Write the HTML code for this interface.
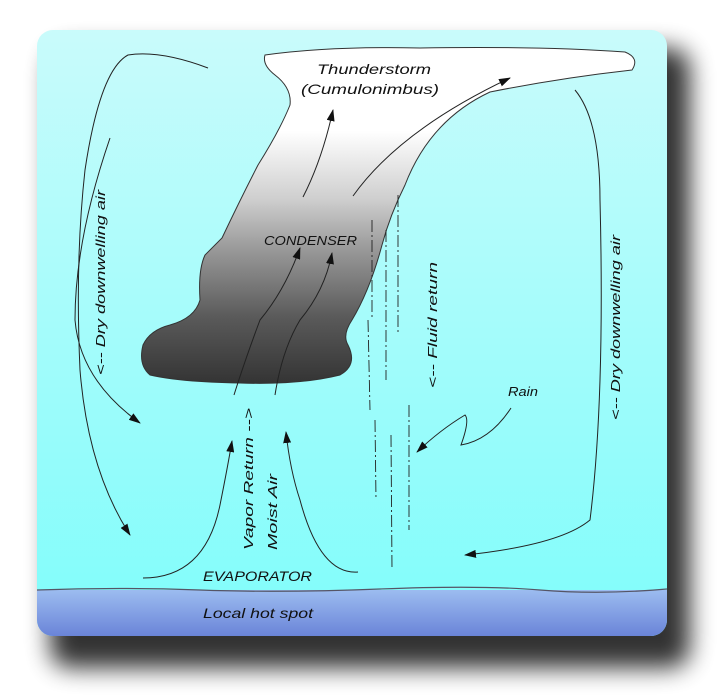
<!DOCTYPE html>
<html><head><meta charset="utf-8"><style>
html,body{margin:0;padding:0;background:#fff;}
svg{display:block;}
text{font-family:"Liberation Sans",sans-serif;font-style:italic;fill:#111;}
</style></head><body>
<svg width="720" height="697" viewBox="0 0 720 697" xmlns="http://www.w3.org/2000/svg">
<defs>
<linearGradient id="sky" x1="0" y1="0" x2="0" y2="1">
<stop offset="0" stop-color="#c9fbfb"/><stop offset="1" stop-color="#7ffdfb"/>
</linearGradient>
<linearGradient id="water" x1="0" y1="0" x2="0" y2="1">
<stop offset="0" stop-color="#9cbcf0"/><stop offset="1" stop-color="#6a84d8"/>
</linearGradient>
<linearGradient id="cloud" x1="0" y1="46" x2="0" y2="385" gradientUnits="userSpaceOnUse">
<stop offset="0.25" stop-color="#ffffff"/><stop offset="0.45" stop-color="#cfcfcf"/><stop offset="0.6" stop-color="#999"/><stop offset="0.8" stop-color="#5a5a5a"/><stop offset="1" stop-color="#333"/>
</linearGradient>
<filter id="sh" x="-10%" y="-10%" width="130%" height="130%"><feGaussianBlur stdDeviation="12"/></filter>
<clipPath id="card"><rect x="37" y="30" width="630" height="606" rx="16"/></clipPath>
<marker id="ah" markerWidth="12" markerHeight="8" refX="11" refY="4" orient="auto" markerUnits="userSpaceOnUse"><path d="M0,0 L12,4 L0,8 Z" fill="#111"/></marker>
</defs>
<rect x="50" y="48" width="640" height="620" rx="20" fill="#000" opacity="0.8" filter="url(#sh)"/>
<g clip-path="url(#card)">
<rect x="37" y="30" width="630" height="606" fill="url(#sky)"/>
<rect x="37" y="590" width="630" height="46" fill="url(#water)"/>
<path d="M37,590 Q120,587 200,590 T380,589 T540,590 T667,589" stroke="#556" stroke-width="1.2" fill="none"/>
</g>
<path d="M265,55 Q330,46 420,48 Q540,46 625,52 Q640,58 632,70 Q560,78 490,92 Q430,120 405,185 Q390,215 382,245 Q370,290 352,320 Q342,335 348,345 Q358,365 340,375 Q300,385 240,383 Q180,382 150,375 Q138,365 143,345 Q150,330 170,325 Q195,318 200,300 Q198,270 205,255 Q215,245 222,238 Q240,200 258,165 Q280,130 290,105 Q292,88 275,75 Q262,65 265,55 Z" fill="url(#cloud)" stroke="#333" stroke-width="1"/>
<g fill="none" stroke="#222" stroke-width="1">
<path d="M208,68 Q160,50 128,55 Q100,70 85,170 Q75,260 80,370 Q88,470 130,535" marker-end="url(#ah)"/>
<path d="M110,138 Q75,240 75,320 Q80,380 140,423" marker-end="url(#ah)"/>
<path d="M575,90 Q600,120 600,200 Q605,400 590,520 Q560,545 465,555" marker-end="url(#ah)"/>
<path d="M143,578 Q205,578 220,505 Q228,465 232,441" marker-end="url(#ah)"/>
<path d="M358,572 Q320,575 300,500 Q290,470 286,432" marker-end="url(#ah)"/>
<path d="M234,395 Q245,360 260,320 Q285,290 300,248" marker-end="url(#ah)"/>
<path d="M275,395 Q282,350 300,320 Q325,290 332,253" marker-end="url(#ah)"/>
<path d="M303,197 Q322,160 333,110" marker-end="url(#ah)"/>
<path d="M353,196 Q400,130 510,78" marker-end="url(#ah)"/>
<path d="M511,408 Q490,440 461,445 Q470,420 465,415 Q440,430 417,452" marker-end="url(#ah)"/>
<g stroke-dasharray="12,3,2,3" stroke-width="0.9">
<path d="M372,220 L372,320"/><path d="M386,230 L386,380"/><path d="M398,195 L398,335"/>
<path d="M375,420 L376,500"/><path d="M391,435 L392,570"/><path d="M409,405 L409,530"/><path d="M368,320 L370,410"/>
</g>
</g>
<text x="317" y="74" font-size="14" textLength="114" lengthAdjust="spacingAndGlyphs">Thunderstorm</text>
<text x="301" y="94" font-size="14" textLength="138" lengthAdjust="spacingAndGlyphs">(Cumulonimbus)</text>
<text x="264" y="245" font-size="13" textLength="93" lengthAdjust="spacingAndGlyphs">CONDENSER</text>
<text x="508" y="396" font-size="13" textLength="30" lengthAdjust="spacingAndGlyphs">Rain</text>
<text x="203" y="581" font-size="14" textLength="109" lengthAdjust="spacingAndGlyphs">EVAPORATOR</text>
<text x="203" y="618" font-size="14" textLength="110" lengthAdjust="spacingAndGlyphs">Local hot spot</text>
<text font-size="13" textLength="185" lengthAdjust="spacingAndGlyphs" transform="translate(105,375) rotate(-90)">&lt;-- Dry downwelling air</text>
<text font-size="13" textLength="185" lengthAdjust="spacingAndGlyphs" transform="translate(620,420) rotate(-90)">&lt;-- Dry downwelling air</text>
<text font-size="13" textLength="126" lengthAdjust="spacingAndGlyphs" transform="translate(437,388) rotate(-90)">&lt;-- Fluid return</text>
<text font-size="13" textLength="142" lengthAdjust="spacingAndGlyphs" transform="translate(253,550) rotate(-90)">Vapor Return --&gt;</text>
<text font-size="13" textLength="76" lengthAdjust="spacingAndGlyphs" transform="translate(277,550) rotate(-90)">Moist Air</text>
</svg>
</body></html>
